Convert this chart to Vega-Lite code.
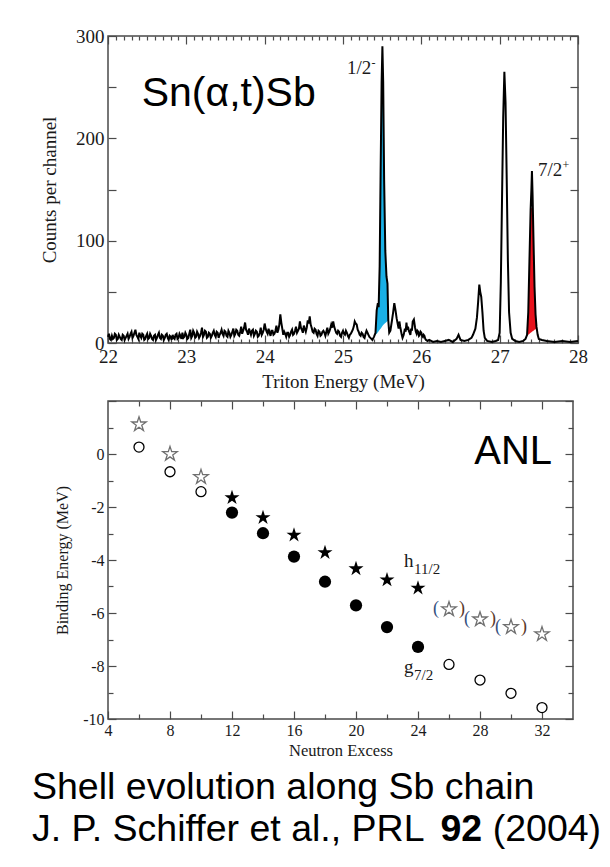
{
  "$schema": "https://vega.github.io/schema/vega-lite/v6.json",
  "padding": {"left": 32, "top": 26, "right": 5, "bottom": 5},
  "background": "white",
  "spacing": 0,
  "config": {
    "view": {"stroke": "#4a4a4a", "strokeWidth": 1.5},
    "axis": {"grid": false, "domain": false, "labelFont": "Liberation Serif", "titleFont": "Liberation Serif", "labelColor": "#1a1a1a", "titleColor": "#1a1a1a", "titleFontWeight": "normal", "tickColor": "#4a4a4a", "tickWidth": 1.2, "labelFlush": false, "labelOverlap": false}
  },
  "datasets": {
    "spec": [
      {"e":22.000,"c":6},{"e":22.0125,"c":9},{"e":22.025,"c":4},{"e":22.0375,"c":3},{"e":22.050,"c":7},{"e":22.0625,"c":4},{"e":22.075,"c":5},{"e":22.0875,"c":9},{"e":22.100,"c":8},{"e":22.1125,"c":3},{"e":22.125,"c":4},{"e":22.1375,"c":8},{"e":22.150,"c":6},{"e":22.1625,"c":4},{"e":22.175,"c":3},{"e":22.1875,"c":8},{"e":22.200,"c":7},{"e":22.2125,"c":3},{"e":22.225,"c":5},{"e":22.2375,"c":7},{"e":22.250,"c":9},{"e":22.2625,"c":4},{"e":22.275,"c":6},{"e":22.2875,"c":9},{"e":22.300,"c":11},{"e":22.3125,"c":5},{"e":22.325,"c":7},{"e":22.3375,"c":10},{"e":22.350,"c":13},{"e":22.3625,"c":8},{"e":22.375,"c":6},{"e":22.3875,"c":4},{"e":22.400,"c":10},{"e":22.4125,"c":7},{"e":22.425,"c":5},{"e":22.4375,"c":9},{"e":22.450,"c":8},{"e":22.4625,"c":3},{"e":22.475,"c":4},{"e":22.4875,"c":7},{"e":22.500,"c":9},{"e":22.5125,"c":4},{"e":22.525,"c":5},{"e":22.5375,"c":9},{"e":22.550,"c":7},{"e":22.5625,"c":4},{"e":22.575,"c":3},{"e":22.5875,"c":7},{"e":22.600,"c":8},{"e":22.6125,"c":3},{"e":22.625,"c":5},{"e":22.6375,"c":8},{"e":22.650,"c":10},{"e":22.6625,"c":5},{"e":22.675,"c":4},{"e":22.6875,"c":8},{"e":22.700,"c":7},{"e":22.7125,"c":3},{"e":22.725,"c":5},{"e":22.7375,"c":8},{"e":22.750,"c":9},{"e":22.7625,"c":5},{"e":22.775,"c":3},{"e":22.7875,"c":7},{"e":22.800,"c":6},{"e":22.8125,"c":3},{"e":22.825,"c":8},{"e":22.8375,"c":5},{"e":22.850,"c":4},{"e":22.8625,"c":8},{"e":22.875,"c":9},{"e":22.8875,"c":4},{"e":22.900,"c":5},{"e":22.9125,"c":9},{"e":22.925,"c":7},{"e":22.9375,"c":4},{"e":22.950,"c":10},{"e":22.9625,"c":5},{"e":22.975,"c":6},{"e":22.9875,"c":10},
      {"e":23.000,"c":8},{"e":23.0125,"c":4},{"e":23.025,"c":5},{"e":23.0375,"c":9},{"e":23.050,"c":13},{"e":23.0625,"c":5},{"e":23.075,"c":7},{"e":23.0875,"c":12},{"e":23.100,"c":10},{"e":23.1125,"c":5},{"e":23.125,"c":6},{"e":23.1375,"c":11},{"e":23.150,"c":9},{"e":23.1625,"c":5},{"e":23.175,"c":7},{"e":23.1875,"c":10},{"e":23.200,"c":15},{"e":23.2125,"c":6},{"e":23.225,"c":8},{"e":23.2375,"c":12},{"e":23.250,"c":11},{"e":23.2625,"c":5},{"e":23.275,"c":6},{"e":23.2875,"c":10},{"e":23.300,"c":9},{"e":23.3125,"c":5},{"e":23.325,"c":7},{"e":23.3375,"c":10},{"e":23.350,"c":12},{"e":23.3625,"c":8},{"e":23.375,"c":6},{"e":23.3875,"c":11},{"e":23.400,"c":10},{"e":23.4125,"c":5},{"e":23.425,"c":8},{"e":23.4375,"c":10},{"e":23.450,"c":13},{"e":23.4625,"c":9},{"e":23.475,"c":7},{"e":23.4875,"c":12},{"e":23.500,"c":11},{"e":23.5125,"c":7},{"e":23.525,"c":6},{"e":23.5375,"c":12},{"e":23.550,"c":10},{"e":23.5625,"c":6},{"e":23.575,"c":8},{"e":23.5875,"c":11},{"e":23.600,"c":14},{"e":23.6125,"c":7},{"e":23.625,"c":9},{"e":23.6375,"c":13},{"e":23.650,"c":12},{"e":23.6625,"c":8},{"e":23.675,"c":7},{"e":23.6875,"c":11},{"e":23.700,"c":16},{"e":23.7125,"c":9},{"e":23.725,"c":12},{"e":23.7375,"c":15},{"e":23.750,"c":20},{"e":23.7625,"c":13},{"e":23.775,"c":11},{"e":23.7875,"c":8},{"e":23.800,"c":14},{"e":23.8125,"c":11},{"e":23.825,"c":8},{"e":23.8375,"c":12},{"e":23.850,"c":13},{"e":23.8625,"c":7},{"e":23.875,"c":9},{"e":23.8875,"c":12},{"e":23.900,"c":11},{"e":23.9125,"c":6},{"e":23.925,"c":7},{"e":23.9375,"c":10},{"e":23.950,"c":15},{"e":23.9625,"c":8},{"e":23.975,"c":10},{"e":23.9875,"c":13},
      {"e":24.000,"c":19},{"e":24.0125,"c":14},{"e":24.025,"c":11},{"e":24.0375,"c":9},{"e":24.050,"c":14},{"e":24.0625,"c":10},{"e":24.075,"c":7},{"e":24.0875,"c":12},{"e":24.100,"c":12},{"e":24.1125,"c":8},{"e":24.125,"c":9},{"e":24.1375,"c":12},{"e":24.150,"c":17},{"e":24.1625,"c":10},{"e":24.175,"c":13},{"e":24.1875,"c":18},{"e":24.200,"c":28},{"e":24.2125,"c":20},{"e":24.225,"c":14},{"e":24.2375,"c":8},{"e":24.250,"c":11},{"e":24.2625,"c":9},{"e":24.275,"c":6},{"e":24.2875,"c":10},{"e":24.300,"c":10},{"e":24.3125,"c":6},{"e":24.325,"c":8},{"e":24.3375,"c":11},{"e":24.350,"c":13},{"e":24.3625,"c":8},{"e":24.375,"c":9},{"e":24.3875,"c":12},{"e":24.400,"c":16},{"e":24.4125,"c":10},{"e":24.425,"c":12},{"e":24.4375,"c":14},{"e":24.450,"c":21},{"e":24.4625,"c":15},{"e":24.475,"c":13},{"e":24.4875,"c":10},{"e":24.500,"c":17},{"e":24.5125,"c":14},{"e":24.525,"c":11},{"e":24.5375,"c":15},{"e":24.550,"c":22},{"e":24.5625,"c":19},{"e":24.575,"c":26},{"e":24.5875,"c":18},{"e":24.600,"c":15},{"e":24.6125,"c":11},{"e":24.625,"c":10},{"e":24.6375,"c":14},{"e":24.650,"c":13},{"e":24.6625,"c":9},{"e":24.675,"c":7},{"e":24.6875,"c":12},{"e":24.700,"c":11},{"e":24.7125,"c":7},{"e":24.725,"c":8},{"e":24.7375,"c":11},{"e":24.750,"c":12},{"e":24.7625,"c":10},{"e":24.775,"c":7},{"e":24.7875,"c":11},{"e":24.800,"c":15},{"e":24.8125,"c":9},{"e":24.825,"c":11},{"e":24.8375,"c":14},{"e":24.850,"c":18},{"e":24.8625,"c":15},{"e":24.875,"c":21},{"e":24.8875,"c":16},{"e":24.900,"c":13},{"e":24.9125,"c":10},{"e":24.925,"c":9},{"e":24.9375,"c":12},{"e":24.950,"c":11},{"e":24.9625,"c":7},{"e":24.975,"c":6},{"e":24.9875,"c":10},
      {"e":25.000,"c":12},{"e":25.0125,"c":9},{"e":25.025,"c":8},{"e":25.0375,"c":12},{"e":25.050,"c":10},{"e":25.0625,"c":7},{"e":25.075,"c":5},{"e":25.0875,"c":8},{"e":25.100,"c":9},{"e":25.1125,"c":11},{"e":25.125,"c":13},{"e":25.1375,"c":16},{"e":25.150,"c":21},{"e":25.1625,"c":19},{"e":25.175,"c":18},{"e":25.1875,"c":13},{"e":25.200,"c":11},{"e":25.2125,"c":8},{"e":25.225,"c":7},{"e":25.2375,"c":10},{"e":25.250,"c":9},{"e":25.2625,"c":6},{"e":25.275,"c":5},{"e":25.2875,"c":9},{"e":25.300,"c":12},{"e":25.3125,"c":10},{"e":25.325,"c":8},{"e":25.3375,"c":6},{"e":25.350,"c":5},{"e":25.3625,"c":4},{"e":25.375,"c":3},{"e":25.395,"c":6},{"e":25.415,"c":10},{"e":25.430,"c":32},{"e":25.445,"c":39},{"e":25.455,"c":35},{"e":25.468,"c":75},{"e":25.480,"c":165},{"e":25.493,"c":255},{"e":25.503,"c":290},{"e":25.513,"c":255},{"e":25.525,"c":160},{"e":25.540,"c":90},{"e":25.555,"c":65},{"e":25.568,"c":58},{"e":25.578,"c":22},{"e":25.590,"c":10},{"e":25.605,"c":12},{"e":25.625,"c":22},{"e":25.640,"c":30},{"e":25.655,"c":39},{"e":25.670,"c":32},{"e":25.685,"c":24},{"e":25.700,"c":18},{"e":25.710,"c":14},{"e":25.720,"c":21},{"e":25.730,"c":16},{"e":25.740,"c":12},{"e":25.750,"c":8},{"e":25.760,"c":5},{"e":25.775,"c":8},{"e":25.790,"c":14},{"e":25.800,"c":11},{"e":25.810,"c":20},{"e":25.820,"c":13},{"e":25.830,"c":16},{"e":25.840,"c":12},{"e":25.850,"c":10},{"e":25.860,"c":8},{"e":25.870,"c":14},{"e":25.880,"c":12},{"e":25.890,"c":21},{"e":25.905,"c":23},{"e":25.920,"c":15},{"e":25.930,"c":11},{"e":25.940,"c":9},{"e":25.950,"c":12},{"e":25.960,"c":11},{"e":25.970,"c":7},{"e":25.980,"c":8},{"e":25.990,"c":11},
      {"e":26.000,"c":10},{"e":26.010,"c":7},{"e":26.020,"c":6},{"e":26.030,"c":8},{"e":26.040,"c":7},{"e":26.050,"c":4},{"e":26.060,"c":3},{"e":26.080,"c":2},{"e":26.100,"c":3},{"e":26.150,"c":1},{"e":26.200,"c":2},{"e":26.250,"c":1},{"e":26.300,"c":2},{"e":26.350,"c":3},{"e":26.400,"c":1},{"e":26.450,"c":4},{"e":26.475,"c":8},{"e":26.500,"c":3},{"e":26.550,"c":2},{"e":26.600,"c":3},{"e":26.640,"c":5},{"e":26.660,"c":8},{"e":26.690,"c":14},{"e":26.710,"c":25},{"e":26.725,"c":40},{"e":26.740,"c":57},{"e":26.752,"c":50},{"e":26.765,"c":45},{"e":26.780,"c":30},{"e":26.795,"c":12},{"e":26.810,"c":5},{"e":26.840,"c":2},{"e":26.900,"c":1},{"e":26.950,"c":2},{"e":26.980,"c":3},
      {"e":27.000,"c":10},{"e":27.015,"c":60},{"e":27.030,"c":140},{"e":27.045,"c":220},{"e":27.060,"c":265},{"e":27.075,"c":235},{"e":27.090,"c":160},{"e":27.105,"c":80},{"e":27.120,"c":30},{"e":27.140,"c":10},{"e":27.160,"c":4},{"e":27.200,"c":2},{"e":27.250,"c":1},{"e":27.300,"c":2},{"e":27.330,"c":4},{"e":27.350,"c":8},{"e":27.365,"c":30},{"e":27.380,"c":80},{"e":27.395,"c":130},{"e":27.405,"c":150},{"e":27.412,"c":168},{"e":27.420,"c":145},{"e":27.432,"c":100},{"e":27.445,"c":55},{"e":27.458,"c":28},{"e":27.470,"c":16},{"e":27.485,"c":8},{"e":27.500,"c":4},{"e":27.540,"c":3},{"e":27.600,"c":2},{"e":27.700,"c":1},{"e":27.800,"c":2},{"e":27.900,"c":1},{"e":28.000,"c":2}
    ],
    "blue": [
      {"e":25.415,"lo":8,"hi":10},{"e":25.430,"lo":9,"hi":32},{"e":25.445,"lo":10.5,"hi":39},{"e":25.455,"lo":11.5,"hi":35},{"e":25.468,"lo":13,"hi":75},{"e":25.480,"lo":14,"hi":165},{"e":25.493,"lo":15.5,"hi":255},{"e":25.503,"lo":16.5,"hi":290},{"e":25.513,"lo":17.5,"hi":255},{"e":25.525,"lo":18.5,"hi":160},{"e":25.540,"lo":19.5,"hi":90},{"e":25.555,"lo":20.5,"hi":65},{"e":25.568,"lo":21.5,"hi":58},{"e":25.578,"lo":22,"hi":22}
    ],
    "red": [
      {"e":27.350,"lo":7,"hi":8},{"e":27.365,"lo":8,"hi":30},{"e":27.380,"lo":9,"hi":80},{"e":27.395,"lo":10,"hi":130},{"e":27.405,"lo":10.5,"hi":132},{"e":27.412,"lo":11,"hi":132},{"e":27.420,"lo":11.5,"hi":132},{"e":27.432,"lo":12,"hi":100},{"e":27.445,"lo":13,"hi":55},{"e":27.458,"lo":13.5,"hi":28},{"e":27.470,"lo":14,"hi":16}
    ],
    "topnote": [{"e":22.43,"c":231.6,"t":"Sn(α,t)Sb"}],
    "peaklab": [{"e":25.05,"c":262.8,"t":"1/2","s":"-"},{"e":27.49,"c":163,"t":"7/2","s":"+"}],
    "be": [
      {"k":"oc","n":6,"b":0.26},{"k":"oc","n":8,"b":-0.67},{"k":"oc","n":10,"b":-1.42},{"k":"oc","n":26,"b":-7.94},{"k":"oc","n":28,"b":-8.53},{"k":"oc","n":30,"b":-9.03},{"k":"oc","n":32,"b":-9.57},
      {"k":"fc","n":12,"b":-2.21},{"k":"fc","n":14,"b":-2.99},{"k":"fc","n":16,"b":-3.87},{"k":"fc","n":18,"b":-4.82},{"k":"fc","n":20,"b":-5.71},{"k":"fc","n":22,"b":-6.53},{"k":"fc","n":24,"b":-7.28},
      {"k":"fs","n":12,"b":-1.65},{"k":"fs","n":14,"b":-2.40},{"k":"fs","n":16,"b":-3.06},{"k":"fs","n":18,"b":-3.72},{"k":"fs","n":20,"b":-4.33},{"k":"fs","n":22,"b":-4.75},{"k":"fs","n":24,"b":-5.06},
      {"k":"os","n":6,"b":1.12},{"k":"os","n":8,"b":0.0},{"k":"os","n":10,"b":-0.87},{"k":"os","n":26,"b":-5.86},{"k":"os","n":28,"b":-6.24},{"k":"os","n":30,"b":-6.53},{"k":"os","n":32,"b":-6.80}
    ],
    "orb": [{"n":23.1,"b":-4.26,"m":"h","s":"11/2"},{"n":23.1,"b":-8.26,"m":"g","s":"7/2"}],
    "lab": [{"n":32.65,"b":-0.38,"t":"ANL"}],
    "cap": [{"line":1,"t":"Shell evolution along Sb chain"},{"line":2,"t":"J. P. Schiffer et al., PRL"}],
    "capb": [{"line":2,"t":"92"}],
    "capc": [{"line":2,"t":"(2004)"}]
  },
  "vconcat": [
    {
      "width": 470,
      "height": 307,
      "resolve": {"axis": {"x": "independent", "y": "independent"}},
      "layer": [
        {
          "data": {"name": "blue"},
          "mark": {"type": "area", "color": "#19b0e6", "opacity": 1},
          "encoding": {
            "x": {"field": "e", "type": "quantitative", "scale": {"domain": [22, 28], "nice": false, "zero": false},
              "axis": {"orient": "bottom", "values": [22,23,24,25,26,27,28], "tickSize": -8, "labelPadding": 12, "labelFontSize": 19, "title": "Triton Energy (MeV)", "titleFontSize": 19, "titlePadding": 6}},
            "y": {"field": "hi", "type": "quantitative", "scale": {"domain": [0, 300], "nice": false, "zero": false},
              "axis": {"orient": "left", "values": [0,50,100,150,200,250,300], "tickSize": -8, "labelPadding": 12, "labelFontSize": 19, "labelExpr": "datum.value % 100 === 0 ? datum.label : ''", "title": "Counts per channel", "titleFontSize": 19, "titlePadding": 16}},
            "y2": {"field": "lo"}
          }
        },
        {
          "data": {"name": "red"},
          "mark": {"type": "area", "color": "#e8121c", "opacity": 1},
          "encoding": {
            "x": {"field": "e", "type": "quantitative",
              "axis": {"orient": "bottom", "values": [22.1,22.2,22.3,22.4,22.5,22.6,22.7,22.8,22.9,23.1,23.2,23.3,23.4,23.5,23.6,23.7,23.8,23.9,24.1,24.2,24.3,24.4,24.5,24.6,24.7,24.8,24.9,25.1,25.2,25.3,25.4,25.5,25.6,25.7,25.8,25.9,26.1,26.2,26.3,26.4,26.5,26.6,26.7,26.8,26.9,27.1,27.2,27.3,27.4,27.5,27.6,27.7,27.8,27.9], "tickSize": -4, "labels": false, "title": null}},
            "y": {"field": "hi", "type": "quantitative",
              "axis": {"orient": "right", "values": [0,50,100,150,200,250,300], "tickSize": -8, "labels": false, "title": null}},
            "y2": {"field": "lo"}
          }
        },
        {
          "data": {"name": "spec"},
          "mark": {"type": "line", "color": "black", "strokeWidth": 2},
          "encoding": {
            "x": {"field": "e", "type": "quantitative",
              "axis": {"orient": "top", "values": [22,23,24,25,26,27,28], "tickSize": -8, "labels": false, "title": null}},
            "y": {"field": "c", "type": "quantitative", "axis": null}
          }
        },
        {
          "data": {"name": "topnote"},
          "mark": {"type": "text", "align": "left", "baseline": "alphabetic", "font": "Liberation Sans", "fontSize": 41, "color": "black"},
          "encoding": {
            "x": {"field": "e", "type": "quantitative",
              "axis": {"orient": "top", "values": [22.1,22.2,22.3,22.4,22.5,22.6,22.7,22.8,22.9,23.1,23.2,23.3,23.4,23.5,23.6,23.7,23.8,23.9,24.1,24.2,24.3,24.4,24.5,24.6,24.7,24.8,24.9,25.1,25.2,25.3,25.4,25.5,25.6,25.7,25.8,25.9,26.1,26.2,26.3,26.4,26.5,26.6,26.7,26.8,26.9,27.1,27.2,27.3,27.4,27.5,27.6,27.7,27.8,27.9], "tickSize": -4, "labels": false, "title": null}},
            "y": {"field": "c", "type": "quantitative", "axis": null},
            "text": {"field": "t"}
          }
        },
        {
          "data": {"name": "peaklab"},
          "mark": {"type": "text", "align": "left", "baseline": "alphabetic", "font": "Liberation Serif", "fontSize": 19, "color": "#1a1a1a"},
          "encoding": {
            "x": {"field": "e", "type": "quantitative", "axis": null},
            "y": {"field": "c", "type": "quantitative", "axis": null},
            "text": {"field": "t"}
          }
        },
        {
          "data": {"name": "peaklab"},
          "mark": {"type": "text", "align": "left", "baseline": "alphabetic", "font": "Liberation Serif", "fontSize": 12, "dx": 24.5, "dy": -7, "color": "#1a1a1a"},
          "encoding": {
            "x": {"field": "e", "type": "quantitative", "axis": null},
            "y": {"field": "c", "type": "quantitative", "axis": null},
            "text": {"field": "s"}
          }
        }
      ]
    },
    {
      "width": 465,
      "height": 318,
      "resolve": {"axis": {"x": "independent", "y": "independent"}},
      "layer": [
        {
          "data": {"name": "be"},
          "transform": [{"filter": "datum.k === 'oc'"}],
          "mark": {"type": "point", "shape": "circle", "filled": true, "fill": "white", "stroke": "black", "strokeWidth": 1.3, "size": 100, "opacity": 1},
          "encoding": {
            "x": {"field": "n", "type": "quantitative", "scale": {"domain": [4, 34], "nice": false, "zero": false},
              "axis": {"orient": "bottom", "values": [4,8,12,16,20,24,28,32], "tickSize": -8, "labelPadding": 11, "labelFontSize": 16, "title": "Neutron Excess", "titleFontSize": 16.5, "titlePadding": 4}},
            "y": {"field": "b", "type": "quantitative", "scale": {"domain": [-10, 2], "nice": false, "zero": false},
              "axis": {"orient": "left", "values": [-10,-8,-6,-4,-2,0,2], "tickSize": -8, "labelPadding": 12, "labelFontSize": 16, "labelExpr": "datum.value === 2 ? '' : '' + datum.value", "title": "Binding Energy (MeV)", "titleFontSize": 16, "titlePadding": 12}}
          }
        },
        {
          "data": {"name": "be"},
          "transform": [{"filter": "datum.k === 'fc'"}],
          "mark": {"type": "point", "shape": "circle", "filled": true, "color": "black", "size": 150, "opacity": 1},
          "encoding": {
            "x": {"field": "n", "type": "quantitative",
              "axis": {"orient": "bottom", "values": [6,10,14,18,22,26,30], "tickSize": -5, "labels": false, "title": null}},
            "y": {"field": "b", "type": "quantitative",
              "axis": {"orient": "left", "values": [-9,-7,-5,-3,-1,1], "tickSize": -5, "labels": false, "title": null}}
          }
        },
        {
          "data": {"name": "be"},
          "transform": [{"filter": "datum.k === 'fs'"}],
          "mark": {"type": "point", "shape": "M0,-1L0.225,-0.309L0.951,-0.309L0.363,0.118L0.588,0.809L0,0.382L-0.588,0.809L-0.363,0.118L-0.951,-0.309L-0.225,-0.309Z", "filled": true, "color": "black", "size": 250, "opacity": 1},
          "encoding": {
            "x": {"field": "n", "type": "quantitative",
              "axis": {"orient": "top", "values": [8,12,16,20,24,28,32], "tickSize": -8, "labels": false, "title": null}},
            "y": {"field": "b", "type": "quantitative",
              "axis": {"orient": "right", "values": [-10,-8,-6,-4,-2,0,2], "tickSize": -8, "labels": false, "title": null}}
          }
        },
        {
          "data": {"name": "be"},
          "transform": [{"filter": "datum.k === 'os'"}],
          "mark": {"type": "point", "shape": "M0,-1L0.225,-0.309L0.951,-0.309L0.363,0.118L0.588,0.809L0,0.382L-0.588,0.809L-0.363,0.118L-0.951,-0.309L-0.225,-0.309Z", "filled": true, "fill": "white", "stroke": "#707070", "strokeWidth": 1.3, "size": 230, "opacity": 1},
          "encoding": {
            "x": {"field": "n", "type": "quantitative",
              "axis": {"orient": "top", "values": [6,10,14,18,22,26,30], "tickSize": -5, "labels": false, "title": null}},
            "y": {"field": "b", "type": "quantitative",
              "axis": {"orient": "right", "values": [-9,-7,-5,-3,-1,1], "tickSize": -5, "labels": false, "title": null}}
          }
        },
        {
          "data": {"name": "be"},
          "transform": [{"filter": "datum.k === 'os' && datum.n >= 26 && datum.n <= 30"}],
          "mark": {"type": "text", "text": "(", "font": "Liberation Serif", "fontSize": 18, "dx": -13, "baseline": "middle", "color": "#34507e"},
          "encoding": {
            "x": {"field": "n", "type": "quantitative", "axis": null},
            "y": {"field": "b", "type": "quantitative", "axis": null}
          }
        },
        {
          "data": {"name": "be"},
          "transform": [{"filter": "datum.k === 'os' && datum.n >= 26 && datum.n <= 30"}],
          "mark": {"type": "text", "text": ")", "font": "Liberation Serif", "fontSize": 18, "dx": 13, "baseline": "middle", "color": "#5a3a2a"},
          "encoding": {
            "x": {"field": "n", "type": "quantitative", "axis": null},
            "y": {"field": "b", "type": "quantitative", "axis": null}
          }
        },
        {
          "data": {"name": "orb"},
          "mark": {"type": "text", "align": "left", "baseline": "alphabetic", "font": "Liberation Serif", "fontSize": 19, "color": "#1a1a1a"},
          "encoding": {
            "x": {"field": "n", "type": "quantitative", "axis": null},
            "y": {"field": "b", "type": "quantitative", "axis": null},
            "text": {"field": "m"}
          }
        },
        {
          "data": {"name": "orb"},
          "mark": {"type": "text", "align": "left", "baseline": "alphabetic", "font": "Liberation Serif", "fontSize": 15, "dx": 10, "dy": 7, "color": "#1a1a1a"},
          "encoding": {
            "x": {"field": "n", "type": "quantitative", "axis": null},
            "y": {"field": "b", "type": "quantitative", "axis": null},
            "text": {"field": "s"}
          }
        },
        {
          "data": {"name": "lab"},
          "mark": {"type": "text", "align": "right", "baseline": "alphabetic", "font": "Liberation Sans", "fontSize": 40, "color": "black"},
          "encoding": {
            "x": {"field": "n", "type": "quantitative", "axis": null},
            "y": {"field": "b", "type": "quantitative", "axis": null},
            "text": {"field": "t"}
          }
        }
      ]
    },
    {
      "width": 470,
      "height": 98,
      "view": {"stroke": null},
      "layer": [
        {
          "data": {"name": "cap"},
          "mark": {"type": "text", "align": "left", "baseline": "middle", "font": "Liberation Sans", "fontSize": 37.5, "dx": -76, "color": "black"},
          "encoding": {
            "x": {"datum": 0, "type": "quantitative", "scale": {"domain": [0, 1]}, "axis": null},
            "y": {"field": "line", "type": "ordinal", "axis": null, "scale": {"type": "point", "padding": 0.64}},
            "text": {"field": "t"}
          }
        },
        {
          "data": {"name": "capb"},
          "mark": {"type": "text", "align": "left", "baseline": "middle", "font": "Liberation Sans", "fontSize": 37.5, "fontWeight": "bold", "dx": 332.5, "color": "black"},
          "encoding": {
            "x": {"datum": 0, "type": "quantitative"},
            "y": {"field": "line", "type": "ordinal"},
            "text": {"field": "t"}
          }
        },
        {
          "data": {"name": "capc"},
          "mark": {"type": "text", "align": "left", "baseline": "middle", "font": "Liberation Sans", "fontSize": 37.5, "dx": 384.7, "color": "black"},
          "encoding": {
            "x": {"datum": 0, "type": "quantitative"},
            "y": {"field": "line", "type": "ordinal"},
            "text": {"field": "t"}
          }
        }
      ]
    }
  ]
}
